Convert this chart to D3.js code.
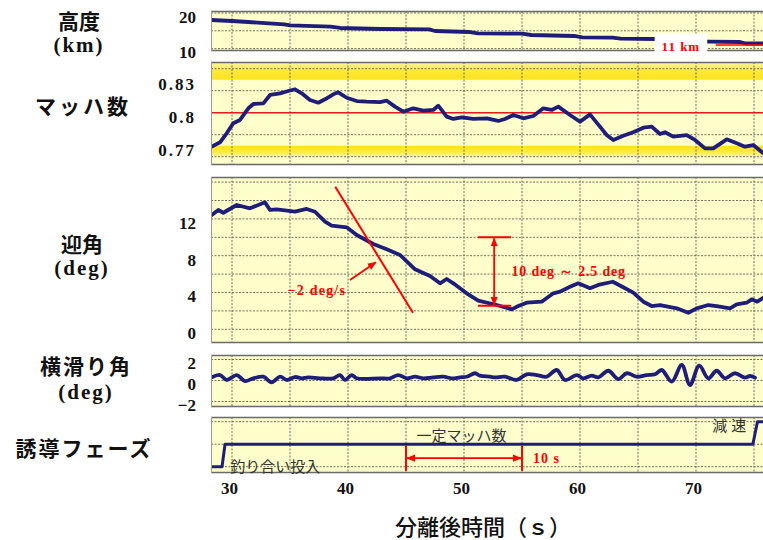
<!DOCTYPE html>
<html>
<head>
<meta charset="utf-8">
<script src="https://cdn.jsdelivr.net/npm/d3@7"></script>
<style>
  body { margin: 0; background: #fff; }
  svg { display: block; font-family: "Liberation Serif", serif; }
  .grid line { stroke: #6e6e5e; stroke-width: 1; stroke-dasharray: 2,1.5; }
  .title { font-family: "Noto Sans CJK JP", sans-serif; font-size: 21px; fill: #111; font-weight: 700; }
  .unit { font-family: "Liberation Serif", serif; font-size: 21px; font-weight: bold; fill: #111; }
  .tick text { font-family: "Liberation Serif", serif; font-size: 17px; font-weight: bold; fill: #111; }
  .note { font-family: "Liberation Serif", serif; font-size: 13px; font-weight: bold; fill: #f00; }
  .phase-label { font-family: "Noto Sans CJK JP", sans-serif; font-size: 15px; fill: #333; }
</style>
</head>
<body>
<svg id="chart" width="763" height="540"></svg>
<script>
// flight data (time after separation, s)

const timeTicks = [30, 40, 50, 60, 70];
const gridTimes = [30, 35, 40, 45, 50, 55, 60, 65, 70, 75];

// altitude, km
const altT = [28.19, 30.0, 34.5, 35.0, 38.5, 39.3, 42.8, 47.0, 47.5, 50.5, 51.2, 55.0, 55.8, 59.5, 60.2, 62.8, 63.5, 66.5, 67.0, 71.1, 73.8, 74.3, 75.8];
const altV = [18.03, 17.75, 16.83, 16.54, 16.15, 15.79, 15.51, 15.42, 14.94, 14.66, 14.30, 14.19, 13.82, 13.54, 13.17, 13.06, 12.78, 12.70, 12.28, 11.94, 11.85, 11.43, 11.43];
const altTicks = [10, 20];
const altGrid = [10, 15, 20];

// mach number
const machT = [28.25, 28.97, 29.54, 30.11, 30.69, 31.41, 31.84, 32.70, 33.28, 34.14, 34.85, 35.43, 36.01, 36.72, 37.44, 38.02, 38.73, 39.16, 39.89, 40.75, 41.61, 42.76,
  43.34, 44.05, 44.77, 45.63, 46.49, 47.35, 47.78, 48.51, 49.08, 49.80, 50.80, 51.96, 52.96, 53.53, 54.25, 55.11, 55.97, 56.84, 57.56, 58.13, 59.14, 60.0,
  60.86, 61.72, 62.30, 62.87, 63.73, 64.59, 65.46, 66.18, 66.90, 67.33, 68.04, 69.20, 69.91, 70.78, 71.49, 72.65, 73.51, 74.22, 74.94, 75.75];
const machV = [0.7691, 0.7731, 0.7813, 0.7904, 0.7934, 0.8040, 0.8079, 0.8085, 0.8161, 0.8176, 0.8197, 0.8213, 0.8176, 0.8115, 0.8091, 0.8122, 0.8167, 0.8185, 0.8136, 0.8106, 0.8100, 0.8097,
  0.8109, 0.8055, 0.8009, 0.8040, 0.8018, 0.8025, 0.8064, 0.7964, 0.7943, 0.7958, 0.7943, 0.7949, 0.7925, 0.7943, 0.7979, 0.7949, 0.7970, 0.8040, 0.8025, 0.8055, 0.7979, 0.7918,
  0.7985, 0.7873, 0.7797, 0.7752, 0.7791, 0.7822, 0.7864, 0.7873, 0.7806, 0.7822, 0.7782, 0.7797, 0.7752, 0.7676, 0.7676, 0.7758, 0.7722, 0.7691, 0.7706, 0.7636];
const machTicks = [0.77, 0.8, 0.83];
const machTickLabels = ["0.77", "0.8", "0.83"];
const machGrid = [0.76, 0.78, 0.82, 0.84];
const machTarget = 0.8;
const machBands = [[0.83, 0.846], [0.76, 0.77]];

// angle of attack, deg
const aoaT = [28.25, 28.82, 29.25, 30.41, 31.55, 32.84, 33.28, 33.85, 35.43, 36.44, 37.16, 38.02, 38.59, 39.89, 40.75, 42.18, 43.34, 44.48, 45.78, 47.07, 47.93, 48.51, 49.08, 50.23, 51.23,
  52.82, 54.11, 54.68, 55.41, 56.70, 57.70, 58.28, 59.14, 59.85, 60.86, 61.58, 62.82, 63.73, 64.59, 65.46, 66.18, 66.90, 68.34, 69.34, 70.06, 71.06, 71.78, 72.93, 73.51, 74.37, 74.80, 75.28, 75.80];
const aoaV = [12.42, 12.97, 12.67, 13.51, 13.15, 13.80, 12.97, 13.04, 12.78, 13.08, 12.78, 11.70, 11.26, 11.09, 10.25, 9.27, 8.70, 8.08, 6.52, 5.79, 5.00, 5.47, 5.00, 3.91, 3.11,
  2.64, 2.17, 2.53, 2.89, 3.00, 3.91, 4.09, 4.63, 5.00, 4.46, 4.82, 5.17, 4.57, 3.98, 3.00, 2.53, 2.64, 2.28, 1.80, 2.28, 2.64, 2.53, 2.28, 2.72, 2.89, 3.26, 3.00, 3.43];
const aoaTicks = [0, 4, 8, 12];
const aoaGrid = [0, 2, 4, 6, 8, 10, 12, 14, 16];

// sideslip angle, deg
const betaT = [28.25, 28.97, 29.54, 30.41, 31.12, 31.84, 32.70, 33.42, 34.14, 34.72, 35.43, 36.01, 36.58, 37.59, 38.73, 39.31, 39.74, 40.32, 40.75, 42.76, 43.62, 44.34, 45.06,
  45.78, 46.49, 47.35, 48.22, 48.94, 49.66, 50.23, 50.95, 51.38, 52.24, 52.67, 53.53, 54.54, 55.41, 56.27, 57.13, 57.99, 58.71, 59.72, 60.28, 61.01, 61.58, 62.44, 63.30,
  64.03, 64.89, 65.75, 66.47, 67.04, 67.91, 68.77, 69.48, 70.28, 71.06, 71.78, 72.50, 73.36, 74.22, 74.66, 75.09];
const betaV = [0.30, 0.52, 0.05, 0.52, -0.05, 0.21, 0.36, -0.17, 0.36, 0.05, 0.33, 0.21, 0.30, 0.21, 0.21, 0.52, 0.05, 0.52, 0.21, 0.21, 0.21, 0.52, 0.21,
  0.36, 0.21, 0.30, 0.36, 0.21, 0.30, 0.36, 0.69, 0.46, 0.36, 0.30, 0.36, 0.05, 0.59, 0.52, 0.36, 1.00, 0.05, 0.52, 0.21, 0.46, 0.30, 0.93, 0.14,
  0.69, 0.36, 0.52, 0.59, 1.00, -0.11, 1.48, -0.43, 1.41, 0.21, 0.93, 0.21, 0.69, 0.27, 0.43, 0.27];
const betaTicks = [-2, 0, 2];
const betaTickLabels = ["−2", "0", "2"];
const betaGrid = [-2, 0, 2];

// guidance phase: 0 trim entry, 1 constant mach, 2 deceleration
const phaseT = [28.19, 29.14, 29.4, 74.9, 75.3, 75.8];
const phaseV = [0, 0, 1, 1, 2, 2];
const phaseGrid = [0, 1, 2];
const phaseNames = ["釣り合い投入", "一定マッハ数", "減速"];

const svg = d3.select("#chart");
const defs = svg.append("defs");

const x = d3.scaleLinear().domain([30, 75]).range([232, 754]);
const plotLeft = 211, plotRight = 780;

const panels = [
  { key: "alt", top: 11, bottom: 51, y: d3.scaleLinear().domain([10, 20]).range([48.6, 13]), grid: altGrid, ticks: altTicks, fmt: d => String(d), t: altT, v: altV },
  { key: "mach", top: 62, bottom: 165, y: d3.scaleLinear().domain([0.77, 0.83]).range([145.7, 79.7]), grid: machGrid, ticks: machTicks, fmt: (d, i) => machTickLabels[i], t: machT, v: machV, spacing: 2 },
  { key: "aoa", top: 177, bottom: 343, y: d3.scaleLinear().domain([0, 16]).range([329.3, 182.1]), grid: aoaGrid, ticks: aoaTicks, fmt: d => String(d), t: aoaT, v: aoaV },
  { key: "beta", top: 355, bottom: 407, y: d3.scaleLinear().domain([-2, 2]).range([401.5, 359.5]), grid: betaGrid, ticks: betaTicks, fmt: (d, i) => betaTickLabels[i], t: betaT, v: betaV, curve: d3.curveCatmullRom },
  { key: "phase", top: 417, bottom: 473, y: d3.scaleLinear().domain([0, 2]).range([466.7, 421.7]), grid: phaseGrid, ticks: [], fmt: d => "", t: phaseT, v: phaseV }
];
const P = Object.fromEntries(panels.map(p => [p.key, p]));

// gradient for the mach tolerance bands
function bandGradient(id, strongAtTop) {
  const g = defs.append("linearGradient").attr("id", id).attr("x1", 0).attr("x2", 0).attr("y1", 0).attr("y2", 1);
  const stops = strongAtTop ? [["0%", "#ffe21a"], ["55%", "#ffea3c"], ["100%", "#fff6a8"]] : [["0%", "#fff6a8"], ["45%", "#ffea3c"], ["100%", "#ffe21a"]];
  stops.forEach(s => g.append("stop").attr("offset", s[0]).attr("stop-color", s[1]));
}
bandGradient("bandTop", false);
bandGradient("bandBottom", true);

const marker = defs.append("marker").attr("id", "arrow").attr("viewBox", "0 0 10 10")
  .attr("refX", 9).attr("refY", 5).attr("markerWidth", 9).attr("markerHeight", 9)
  .attr("markerUnits", "userSpaceOnUse").attr("orient", "auto-start-reverse");
marker.append("path").attr("d", "M0,1 L10,5 L0,9 Z").attr("fill", "#f00");

panels.forEach(p => {
  const g = svg.append("g").attr("class", "panel-" + p.key);
  const h = p.bottom - p.top;
  defs.append("clipPath").attr("id", "clip-" + p.key)
    .append("rect").attr("x", plotLeft).attr("y", p.top).attr("width", plotRight - plotLeft).attr("height", h);

  g.append("rect").attr("x", plotLeft).attr("y", p.top).attr("width", plotRight - plotLeft).attr("height", h)
    .attr("fill", "#ffffcc");

  const inner = g.append("g").attr("clip-path", `url(#clip-${p.key})`);

  if (p.key === "mach") {
    machBands.forEach((b, i) => {
      inner.append("rect").attr("x", plotLeft).attr("width", plotRight - plotLeft)
        .attr("y", p.y(b[1])).attr("height", p.y(b[0]) - p.y(b[1]))
        .attr("fill", i === 0 ? "url(#bandTop)" : "url(#bandBottom)");
    });
  }

  const grid = inner.append("g").attr("class", "grid");
  grid.selectAll(".v").data(gridTimes).join("line").attr("class", "v")
    .attr("x1", d => x(d)).attr("x2", d => x(d)).attr("y1", p.top).attr("y2", p.bottom);
  grid.selectAll(".h").data(p.grid).join("line").attr("class", "h")
    .attr("x1", plotLeft).attr("x2", plotRight).attr("y1", d => p.y(d)).attr("y2", d => p.y(d));

  if (p.key === "mach") {
    inner.append("line").attr("x1", plotLeft).attr("x2", plotRight)
      .attr("y1", p.y(machTarget)).attr("y2", p.y(machTarget))
      .attr("stroke", "#e8171b").attr("stroke-width", 1.5);
  }

  const line = d3.line().x(d => x(d[0])).y(d => p.y(d[1])).curve(p.curve || d3.curveLinear);
  inner.append("path").datum(d3.zip(p.t, p.v)).attr("d", line)
    .attr("fill", "none").attr("stroke", "#1e1e7a").attr("stroke-width", p.key === "phase" ? 3 : 3.8)
    .attr("stroke-linejoin", "round").attr("stroke-linecap", "round");

  // frame
  g.append("line").attr("x1", plotLeft).attr("x2", plotRight).attr("y1", p.top + 0.5).attr("y2", p.top + 0.5)
    .attr("stroke", "#6a6a6a").attr("stroke-width", 1.5);
  g.append("line").attr("x1", plotLeft).attr("x2", plotRight).attr("y1", p.bottom - 0.5).attr("y2", p.bottom - 0.5)
    .attr("stroke", "#6a6a6a").attr("stroke-width", 1.5);
  g.append("line").attr("x1", plotLeft + 0.5).attr("x2", plotLeft + 0.5).attr("y1", p.top).attr("y2", p.bottom)
    .attr("stroke", "#9a9a9a").attr("stroke-width", 1);

  if (p.ticks.length) {
    const ax = g.append("g").attr("transform", `translate(${plotLeft},0)`)
      .call(d3.axisLeft(p.y).tickValues(p.ticks).tickSize(0).tickPadding(15).tickFormat(p.fmt));
    ax.select(".domain").remove();
    ax.selectAll("text").attr("dy", "0.55em").style("letter-spacing", (p.spacing || 0) + "px");
  }
});

// x axis
const xAxis = svg.append("g").attr("transform", `translate(0,${P.phase.bottom})`)
  .call(d3.axisBottom(x).tickValues(timeTicks).tickSize(0).tickPadding(9).tickFormat(d3.format("d")));
xAxis.select(".domain").remove();
xAxis.selectAll("text").attr("dx", -3);

svg.append("text").attr("x", 395).attr("y", 525).attr("dominant-baseline", "central")
  .attr("class", "title").style("font-size", "22px").style("font-weight", 500).text("分離後時間（ｓ）");

// panel titles
const titles = [
  { text: "高度", unit: "(km)", cx: 79, y1: 20, y2: 45, spacing: 0 },
  { text: "マッハ数", unit: null, cx: 83, y1: 105, spacing: 3 },
  { text: "迎角", unit: "(deg)", cx: 82, y1: 243, y2: 268, spacing: 0 },
  { text: "横滑り角", unit: "(deg)", cx: 86, y1: 365, y2: 392, spacing: 2 },
  { text: "誘導フェーズ", unit: null, cx: 84, y1: 447, spacing: 2 }
];
titles.forEach(t => {
  svg.append("text").attr("class", "title").attr("x", t.cx).attr("y", t.y1)
    .attr("text-anchor", "middle").attr("dominant-baseline", "central")
    .style("letter-spacing", t.spacing + "px").text(t.text);
  if (t.unit) {
    svg.append("text").attr("class", "unit").attr("x", t.cx).attr("y", t.y2)
      .attr("text-anchor", "middle").attr("dominant-baseline", "central")
      .style("letter-spacing", "2px").text(t.unit);
  }
});

// --- annotations ---
const red = "#f00";

// altitude: 11 km reference
const altRef = 11;
svg.append("line").attr("x1", x(71.7)).attr("x2", plotRight)
  .attr("y1", P.alt.y(altRef)).attr("y2", P.alt.y(altRef)).attr("stroke", red).attr("stroke-width", 1.5);
const kmLabel = svg.append("text").attr("class", "note").attr("x", x(68.7)).attr("y", P.alt.y(10.45))
  .attr("text-anchor", "middle").attr("dominant-baseline", "central").style("font-size", "13px").style("letter-spacing", "1px").text("11 km");
const kb = kmLabel.node().getBBox();
svg.insert("rect", "text.note").attr("x", kb.x - 7).attr("y", kb.y - 6).attr("width", kb.width + 14).attr("height", kb.height + 11)
  .attr("fill", "#fff");

// angle of attack: slope line and arrow
const yA = P.aoa.y;
const slopeLine = [[38.9, 15.5], [45.6, 1.8]];
svg.append("line").attr("x1", x(slopeLine[0][0])).attr("y1", yA(slopeLine[0][1]))
  .attr("x2", x(slopeLine[1][0])).attr("y2", yA(slopeLine[1][1])).attr("stroke", red).attr("stroke-width", 2);
const slopeArrow = [[40.17, 5.36], [42.4, 7.3]];
svg.append("line").attr("x1", x(slopeArrow[0][0])).attr("y1", yA(slopeArrow[0][1]))
  .attr("x2", x(slopeArrow[1][0])).attr("y2", yA(slopeArrow[1][1])).attr("stroke", red).attr("stroke-width", 1.8)
  .attr("marker-end", "url(#arrow)");
svg.append("text").attr("class", "note").attr("x", x(34.8)).attr("y", yA(4.26))
  .attr("dominant-baseline", "central").style("font-size", "14px").style("letter-spacing", "1.2px").text("−2 deg/s");

// angle of attack: range 10 -> 2.5 deg
const aoaRange = [10, 2.55];
const rangeT = [51.2, 54.05], rangeArrowT = 52.6;
aoaRange.forEach(v => {
  svg.append("line").attr("x1", x(rangeT[0])).attr("x2", x(rangeT[1]))
    .attr("y1", yA(v)).attr("y2", yA(v)).attr("stroke", red).attr("stroke-width", 2);
});
svg.append("line").attr("x1", x(rangeArrowT)).attr("x2", x(rangeArrowT))
  .attr("y1", yA(aoaRange[0]) + 1).attr("y2", yA(aoaRange[1]) - 1).attr("stroke", red).attr("stroke-width", 1.8)
  .attr("marker-start", "url(#arrow)").attr("marker-end", "url(#arrow)");
svg.append("text").attr("class", "note").attr("x", x(54.1)).attr("y", yA(6.25))
  .attr("dominant-baseline", "central").style("font-size", "14px").style("letter-spacing", "0.8px").text("10 deg ～ 2.5 deg");

// guidance phase labels and the 10 s span
const yP = P.phase.y;
svg.append("text").attr("class", "phase-label").attr("x", x(29.85)).attr("y", yP(0.07))
  .attr("dominant-baseline", "central").text(phaseNames[0]);
svg.append("text").attr("class", "phase-label").attr("x", x(45.9)).attr("y", yP(1.42))
  .attr("dominant-baseline", "central").text(phaseNames[1]);
svg.append("text").attr("class", "phase-label").attr("x", x(71.4)).attr("y", yP(1.86))
  .attr("dominant-baseline", "central").style("letter-spacing", "4px").text(phaseNames[2]);

const spanT = [45, 55];
spanT.forEach(t => {
  svg.append("line").attr("x1", x(t)).attr("x2", x(t)).attr("y1", yP(0.92)).attr("y2", yP(-0.19))
    .attr("stroke", red).attr("stroke-width", 2);
});
svg.append("line").attr("x1", x(spanT[0]) + 1).attr("x2", x(spanT[1]) - 1)
  .attr("y1", yP(0.38)).attr("y2", yP(0.38)).attr("stroke", red).attr("stroke-width", 1.8)
  .attr("marker-start", "url(#arrow)").attr("marker-end", "url(#arrow)");
svg.append("text").attr("class", "note").attr("x", x(55.95)).attr("y", yP(0.38))
  .attr("dominant-baseline", "central").style("font-size", "14px").style("letter-spacing", "1px").text("10 s");
</script>
</body>
</html>
